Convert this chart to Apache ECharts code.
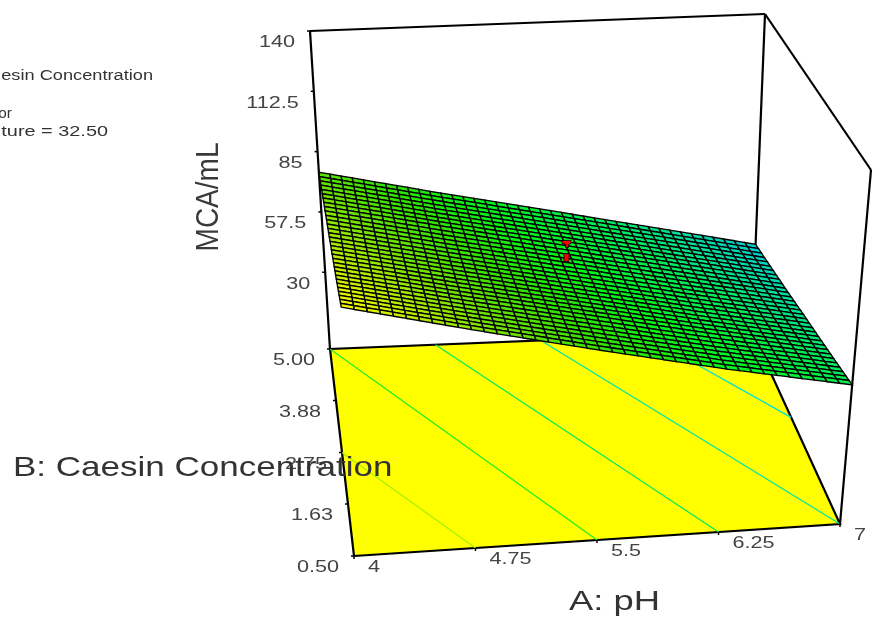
<!DOCTYPE html>
<html><head><meta charset="utf-8">
<style>html,body{margin:0;padding:0;background:#fff}#c{width:874px;height:617px;filter:blur(0.45px)}</style>
<script src="https://cdn.jsdelivr.net/npm/echarts@6/dist/echarts.min.js"></script>
</head><body><div id="c"></div>
<script>
// ---- data ----
var phTicks = [4, 4.75, 5.5, 6.25, 7];
var caseinTicks = [0.5, 1.63, 2.75, 3.88, 5];
var caseinLabels = ['0.50', '1.63', '2.75', '3.88', '5.00'];
var mcaTicks = [30, 57.5, 85, 112.5, 140];
var mcaFloor = -5;
// MCA/mL surface: one row per casein tick, one column per pH tick
var mcaAtCasein050 = [92.5, 81.5, 71.0, 61.0, 52.0];
var mcaAtCasein163 = [88.0, 77.5, 67.5, 57.5, 48.0];
var mcaAtCasein275 = [84.0, 73.5, 63.5, 53.5, 44.0];
var mcaAtCasein388 = [80.0, 69.5, 59.5, 49.5, 39.5];
var mcaAtCasein500 = [75.6, 65.0, 55.0, 45.0, 35.0];
var designPoints = [[5.48, 2.75, 79], [5.48, 2.75, 73]];
// contour lines on the floor as [pH, casein] ends
var contour84 = [[4, 2.75], [4.75, 0.5]];
var contour74 = [[4, 5], [5.5, 0.5]];
var contour64 = [[4.75, 5], [6.25, 0.5]];
var contour54 = [[5.5, 5], [7, 0.5]];
var contour44 = [[6.25, 5], [7, 3]];
var contourColors = ['#a8f000', '#20f020', '#00ec60', '#00e4a8', '#00e0d8'];
var legendLines = ['esin Concentration', 'or', 'ture = 32.50'];

var surfaceRows = [mcaAtCasein050, mcaAtCasein163, mcaAtCasein275, mcaAtCasein388, mcaAtCasein500];
var contours = [contour84, contour74, contour64, contour54, contour44];

// ---- view of the box: screen position of its corners ----
var floorQ = [[354,556],[840,524],[752,332],[330,349]];
var topQ   = [[335,186],[871,170],[765,14],[310,31]];
var FONT = '"Liberation Sans", Arial, sans-serif';
function lerp(a,b,t){return a+(b-a)*t;}
function quad(Q,u,v){
  return [lerp(lerp(Q[0][0],Q[1][0],u),lerp(Q[3][0],Q[2][0],u),v),
          lerp(lerp(Q[0][1],Q[1][1],u),lerp(Q[3][1],Q[2][1],u),v)];
}
function project(ph,b,z){
  var u=(ph-4)/3, v=(b-0.5)/4.5, t=(z-mcaFloor)/(140-mcaFloor);
  var f=quad(floorQ,u,v), h=quad(topQ,u,v);
  return [lerp(f[0],h[0],t),lerp(f[1],h[1],t)];
}
var stops=[[35,[0,205,215]],[42,[0,220,160]],[50,[0,235,90]],[60,[0,245,30]],[70,[50,225,0]],[78,[110,225,0]],[86,[190,235,0]],[93,[255,250,0]]];
function colorOf(z){
  for(var i=1;i<stops.length;i++){ if(z<=stops[i][0]||i==stops.length-1){
    var a=stops[i-1],b=stops[i],t=Math.max(0,Math.min(1,(z-a[0])/(b[0]-a[0])));
    return 'rgb('+[0,1,2].map(function(k){return Math.round(lerp(a[1][k],b[1][k],t));}).join(',')+')';
  }}
}
// mesh drawing of the surface patches
var COLS=10, ROWS=8;
function meshPos(p,q,sub,subr){
  var s=sub/COLS, r=subr/ROWS;
  var z=lerp(lerp(surfaceRows[q][p],surfaceRows[q][p+1],s),lerp(surfaceRows[q+1][p],surfaceRows[q+1][p+1],s),r);
  var ph=lerp(phTicks[p],phTicks[p+1],s), b=lerp(caseinTicks[q],caseinTicks[q+1],r);
  return {z:z,pt:project(ph,b,z)};
}
var patches=[];
for(var q=caseinTicks.length-2;q>=0;q--) for(var p=0;p<phTicks.length-1;p++) patches.push([p,q]);

var chart=echarts.init(document.getElementById('c'),null,{renderer:'canvas'});
function px(api,pt){return api.coord(pt);}
function line(api,a,b,w,col){
  return {type:'line',shape:{x1:px(api,a)[0],y1:px(api,a)[1],x2:px(api,b)[0],y2:px(api,b)[1]},style:{stroke:col||'#000',lineWidth:w||2}};
}
function label(api,pt,text,o){
  var c=px(api,pt);
  return {type:'text',x:c[0],y:c[1],rotation:o.rot||0,scaleX:o.sx||1,scaleY:o.sy||1,
    style:{x:0,y:0,text:text,fill:o.col||'#444',font:(o.size||16)+'px '+FONT,align:o.align||'center',verticalAlign:'middle'}};
}
var base={type:'custom',coordinateSystem:'cartesian2d',silent:true,animation:false,clip:false};
function single(z,fn,id){return Object.assign({},base,{id:id,z:z,data:[[0,0]],renderItem:fn});}

var option={
  animation:false,
  grid:{left:0,right:0,top:0,bottom:0},
  xAxis:{type:'value',min:0,max:874,show:false},
  yAxis:{type:'value',min:0,max:617,inverse:true,show:false},
  series:[
    single(1,function(ps,api){
      var ch=[{type:'polygon',shape:{points:floorQ.map(function(c){return px(api,c);})},style:{fill:'#ffff00',stroke:'#000',lineWidth:2.2}}];
      contours.forEach(function(ct,i){
        ch.push(line(api,project(ct[0][0],ct[0][1],mcaFloor),project(ct[1][0],ct[1][1],mcaFloor),1.3,contourColors[i]));
      });
      return {type:'group',children:ch};
    },'floor'),
    single(2,function(ps,api){
      var e=[
        [project(4,5,140),project(7,5,140)],
        [project(7,5,140),project(7,0.5,140)],
        [project(7,0.5,140),project(7,0.5,mcaFloor)],
        [project(7,5,140),project(7,5,mcaFloor)],
        [project(4,5,140),project(4,5,mcaFloor)]
      ];
      var ch=e.map(function(s){return line(api,s[0],s[1],2.2);});
      mcaTicks.forEach(function(z){var c=project(4,5,z);ch.push(line(api,[c[0]-3,c[1]],c,1.5));});
      caseinTicks.forEach(function(b){var c=project(4,b,mcaFloor);ch.push(line(api,[c[0]-3,c[1]],c,1.5));});
      phTicks.forEach(function(ph){var c=project(ph,0.5,mcaFloor);ch.push(line(api,c,[c[0],c[1]+3],1.5));});
      return {type:'group',children:ch};
    },'box'),
    Object.assign({},base,{id:'surface',z:3,data:patches,renderItem:function(ps,api){
      var p=api.value(0),q=api.value(1),ch=[];
      for(var r=ROWS-1;r>=0;r--)for(var s=0;s<COLS;s++){
        var a=meshPos(p,q,s,r),b=meshPos(p,q,s+1,r),c=meshPos(p,q,s+1,r+1),d=meshPos(p,q,s,r+1);
        ch.push({type:'polygon',shape:{points:[a.pt,b.pt,c.pt,d.pt].map(function(k){return px(api,k);})},
          style:{fill:colorOf((a.z+c.z)/2),stroke:'#000',lineWidth:1.35}});
      }
      return {type:'group',children:ch};
    }}),
    Object.assign({},base,{id:'points',z:4,data:designPoints,renderItem:function(ps,api){
      var c=px(api,project(api.value(0),api.value(1),api.value(2)));
      var pts=ps.dataIndex===0
        ?[[-4.5,-3],[4.5,-3],[4.5,0],[2,1],[2,4],[-1,4],[-1,1],[-4.5,0]]
        :[[-2.5,-4],[2.5,-4],[2.5,4],[-2.5,4]];
      return {type:'polygon',shape:{points:pts.map(function(o){return [c[0]+o[0],c[1]+o[1]];})},style:{fill:'#f40000',stroke:'#000',lineWidth:0.8}};
    }}),
    single(5,function(ps,api){
      var ch=[];
      mcaTicks.forEach(function(z){var c=project(4,5,z);
        ch.push(label(api,[c[0]-15,c[1]+12],String(z),{align:'right',sx:1.35}));});
      caseinTicks.forEach(function(b,i){var c=project(4,b,mcaFloor);
        ch.push(label(api,[c[0]-15,c[1]+12],caseinLabels[i],{align:'right',sx:1.35}));});
      phTicks.forEach(function(ph){var c=project(ph,0.5,mcaFloor);
        ch.push(label(api,[c[0]+14,c[1]+12],String(ph),{align:'left',sx:1.35}));});
      ch.push(label(api,[210,197],'MCA/mL',{rot:Math.PI/2,size:28,col:'#3a3a3a',sy:1.1}));
      ch.push(label(api,[13,468],'B: Caesin Concentration',{align:'left',size:28,col:'#333',sx:1.25}));
      ch.push(label(api,[569,602],'A: pH',{align:'left',size:28,col:'#333',sx:1.3}));
      ch.push(label(api,[153,76],legendLines[0],{align:'right',size:14,col:'#333',sx:1.3}));
      ch.push(label(api,[12,114],legendLines[1],{align:'right',size:14,col:'#333',sx:1.1}));
      ch.push(label(api,[108,132],legendLines[2],{align:'right',size:14,col:'#333',sx:1.42}));
      return {type:'group',children:ch};
    },'text')
  ]
};
chart.setOption(option);
</script></body></html>
